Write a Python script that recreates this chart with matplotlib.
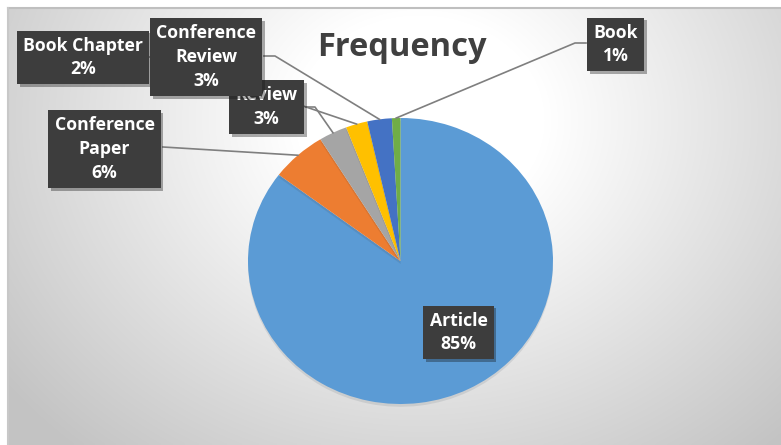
import numpy as np
import matplotlib
matplotlib.use('Agg')
import matplotlib.pyplot as plt
import matplotlib.patheffects as pe

plt.rcParams['font.family'] = ['Open Sans', 'DejaVu Sans']

# data (share of publications, %)
categories = ['Article', 'Conference Paper', 'Review', 'Book Chapter',
              'Conference Review', 'Book']
values = [85.3, 5.9, 3.0, 2.3, 2.6, 0.9]
colors = ['#5B9BD5', '#ED7D31', '#A5A5A5', '#FFC000', '#4472C4', '#70AD47']
label_text = ['Article', 'Conference\nPaper', 'Review', 'Book Chapter',
              'Conference\nReview', 'Book']

W, H = 781, 445
CX, CY, RX, RY = 400.5, 261, 152.5, 143


def P(x, y):
    # picture pixels -> data units (pie has radius 1)
    return (x - CX) / RX, (CY - y) / RY


fig = plt.figure(figsize=(W / 100, H / 100), dpi=100)
ax = fig.add_axes([0, 0, 1, 1])

# background: radial grey gradient, white margin above/left of the chart area
yy, xx = np.mgrid[0:H, 0:W]
d = np.sqrt(((xx - 420) / 500.0) ** 2 + ((yy - 120) / 420.0) ** 2)
v = 255 - 60 * np.clip((d - 0.25) / 0.8, 0, 1)
v[(yy < 8) | (xx < 8)] = 255
img = np.dstack([v, v, v]).astype(np.uint8)
x0, y1 = P(0, H)
x1, y0 = P(W, 0)
ax.imshow(img, extent=(x0, x1, y1, y0), aspect='auto', zorder=0,
          interpolation='bilinear')

wedges, _ = ax.pie(values, colors=colors, startangle=90, counterclock=False,
                   radius=1, wedgeprops=dict(linewidth=0))
for w in wedges:
    w.set_zorder(2)
    w.set_path_effects([pe.SimplePatchShadow(offset=(0, -2), alpha=0.1),
                        pe.Normal()])

ax.set_aspect('auto')
ax.set_xlim(x0, x1)
ax.set_ylim(y1, y0)
ax.axis('off')

# chart area border
bx = [P(8, 8)[0], P(W, 8)[0]]
ax.plot(bx, [P(0, 8)[1]] * 2, color='#bfbfbf', lw=1.5, zorder=1)
ax.plot([P(8, 0)[0]] * 2, [P(0, 8)[1], P(0, H)[1]], color='#c8c8c8', lw=1.5,
        zorder=1)

ax.text(*P(402, 48), 'Frequency', ha='center', va='center', fontsize=23.5,
        fontweight='bold', color='#404040', zorder=5)

# label box centres (px), leader start (px) and elbow length
box_pos = [(458.5, 332.5), (104.5, 149), (266.5, 107), (83, 57.5),
           (206, 57), (615.5, 44.5)]
lead_start = [None, (163, 147), (306, 107), (148, 57), (264, 56), (586, 43)]
elbow = [0, 0, 9, 10, 11, -11]
box_z = [6, 6, 6, 5, 7, 6]

for i, w in enumerate(wedges):
    pct = '%d%%' % round(values[i])
    t = ax.text(*P(*box_pos[i]), label_text[i] + '\n' + pct, ha='center',
                va='center', fontsize=12.7, fontweight='bold', color='white',
                linespacing=1.4, zorder=box_z[i],
                bbox=dict(boxstyle='square,pad=0.35', fc='#3d3d3d', ec='none'))
    t.get_bbox_patch().set_path_effects(
        [pe.SimplePatchShadow(offset=(2, -2), alpha=0.35), pe.Normal()])
    if lead_start[i] is None:
        continue
    mid = np.deg2rad((w.theta1 + w.theta2) / 2)
    sx, sy = lead_start[i]
    pts = [P(sx, sy)]
    if elbow[i]:
        pts.append(P(sx + elbow[i], sy))
    pts.append((np.cos(mid), np.sin(mid)))
    pts = np.array(pts)
    ax.plot(pts[:, 0], pts[:, 1], color='#7f7f7f', lw=1.2, zorder=3)

fig.savefig('out.png', dpi=100)
